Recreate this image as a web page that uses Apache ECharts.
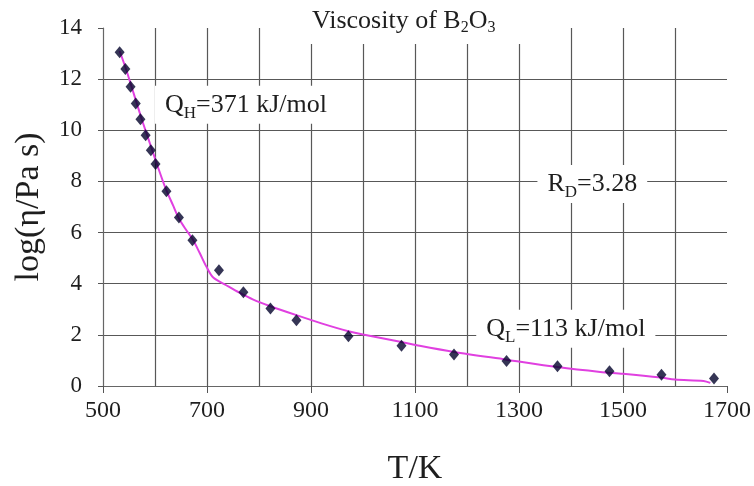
<!DOCTYPE html>
<html>
<head>
<meta charset="utf-8">
<script src="https://cdn.jsdelivr.net/npm/echarts@6/dist/echarts.min.js"></script>
<style>
  html, body { margin: 0; padding: 0; background: #fff; }
  #chart { width: 754px; height: 486px; }
</style>
</head>
<body>
<div id="chart"></div>
<script>
// Measured viscosity of B2O3 melt: temperature (K) and log10(viscosity / Pa s)
const temperatures = [532, 543, 553, 563, 572, 582, 592, 601, 622, 646, 672, 723, 770, 822, 872, 972, 1074, 1175, 1276, 1374, 1474, 1574, 1675];
const logViscosity = [13.05, 12.40, 11.70, 11.05, 10.43, 9.81, 9.22, 8.68, 7.62, 6.59, 5.70, 4.53, 3.67, 3.03, 2.57, 1.95, 1.57, 1.23, 0.98, 0.77, 0.58, 0.44, 0.29];

// Model curve (two activation-energy regimes)
const fitT = [532, 545, 555, 565, 575, 585, 595, 605, 620, 635, 646, 660, 673, 686, 699, 712, 737, 763, 789, 822, 872, 920, 972, 1000, 1074, 1109, 1175, 1276, 1374, 1456, 1500, 1573, 1600, 1655, 1668];
const fitLogEta = [13.1, 12.35, 11.7, 11.05, 10.4, 9.8, 9.2, 8.6, 7.75, 7.05, 6.55, 6.1, 5.72, 5.2, 4.66, 4.24, 3.94, 3.64, 3.38, 3.12, 2.77, 2.45, 2.14, 2.01, 1.72, 1.57, 1.33, 1.03, 0.74, 0.55, 0.48, 0.33, 0.25, 0.2, 0.12];

// Tick settings
const xTicks = { min: 500, max: 1700, interval: 200 };
const yTicks = { min: 0, max: 14, interval: 2 };

// Annotation texts and their anchor positions in data space
const annotations = [
  { text: '{n|Q}{s|H}{n|=371 kJ/mol}', coord: [775, 11.0] },
  { text: '{n|R}{s|D}{n|=3.28}', coord: [1441, 7.9] },
  { text: '{n|Q}{s|L}{n|=113 kJ/mol}', coord: [1390, 2.24] }
];

const SERIF = '"Liberation Serif", "Times New Roman", "DejaVu Serif", serif';
const gridColor = '#585858';
const textColor = '#1e1e1e';

const richText = {
  n: { fontFamily: SERIF, fontSize: 26, color: textColor, lineHeight: 26, verticalAlign: 'top' },
  s: { fontFamily: SERIF, fontSize: 17, color: textColor, lineHeight: 16, verticalAlign: 'top', padding: [13, 0, 0, 0] }
};

const chart = echarts.init(document.getElementById('chart'), null, { renderer: 'canvas' });

chart.setOption({
  backgroundColor: '#fff',
  animation: false,
  title: {
    text: '{n|Viscosity of B}{s|2}{n|O}{s|3}',
    left: 278,
    top: 0,
    padding: [8, 34, 8, 34],
    backgroundColor: '#fff',
    textStyle: {
      fontWeight: 'normal',
      rich: {
        n: { fontFamily: SERIF, fontSize: 26, fontWeight: 'normal', color: textColor, lineHeight: 24, verticalAlign: 'top' },
        s: { fontFamily: SERIF, fontSize: 16, fontWeight: 'normal', color: textColor, lineHeight: 14, verticalAlign: 'top', padding: [12, 0, 0, 0] }
      }
    },
    z: 10
  },
  grid: { left: 103, right: 27, top: 28, bottom: 100, containLabel: false, outerBoundsMode: 'none' },
  xAxis: {
    type: 'value',
    min: xTicks.min,
    max: xTicks.max,
    interval: xTicks.interval,
    name: 'T/K',
    nameLocation: 'middle',
    nameGap: 66,
    nameTextStyle: { fontFamily: SERIF, fontSize: 34, color: textColor },
    axisLine: { show: true, onZero: false, lineStyle: { color: '#666', width: 1.2 } },
    axisTick: { show: true, length: 7, lineStyle: { color: '#555' } },
    axisLabel: { fontFamily: SERIF, fontSize: 24, color: textColor, margin: 13, formatter: v => String(v) },
    splitLine: { show: true, showMinLine: false, showMaxLine: false, lineStyle: { color: gridColor, width: 1.2 } },
    minorTick: { show: false, splitNumber: 2 },
    minorSplitLine: { show: true, lineStyle: { color: gridColor, width: 1.2 } }
  },
  yAxis: {
    type: 'value',
    min: yTicks.min,
    max: yTicks.max,
    interval: yTicks.interval,
    name: 'log(η/Pa s)',
    nameLocation: 'middle',
    nameRotate: 90,
    nameGap: 57,
    nameTextStyle: { fontFamily: SERIF, fontSize: 34, color: textColor },
    axisLine: { show: true, onZero: false, lineStyle: { color: '#666', width: 1.2 } },
    axisTick: { show: true, length: 5, lineStyle: { color: '#555' } },
    axisLabel: { fontFamily: SERIF, fontSize: 23, color: textColor, margin: 21 },
    splitLine: { show: true, showMinLine: false, showMaxLine: false, lineStyle: { color: gridColor, width: 1.2 } }
  },
  series: [
    {
      name: 'model',
      type: 'line',
      data: fitT.map((t, i) => [t, fitLogEta[i]]),
      smooth: 0.3,
      symbol: 'none',
      lineStyle: { color: '#e040e0', width: 2 },
      z: 3,
      markPoint: {
        symbol: 'rect',
        symbolSize: 1,
        itemStyle: { color: 'rgba(0,0,0,0)' },
        data: annotations.map(a => ({
          coord: a.coord,
          label: {
            show: true,
            position: 'inside',
            formatter: a.text,
            backgroundColor: '#fff',
            padding: [6, 10, 6, 10],
            rich: richText
          }
        }))
      }
    },
    {
      name: 'measured',
      type: 'scatter',
      data: temperatures.map((t, i) => [t, logViscosity[i]]),
      symbol: 'diamond',
      symbolSize: [10, 12],
      itemStyle: { color: '#02022a' },
      z: 4
    }
  ]
});
</script>
</body>
</html>
